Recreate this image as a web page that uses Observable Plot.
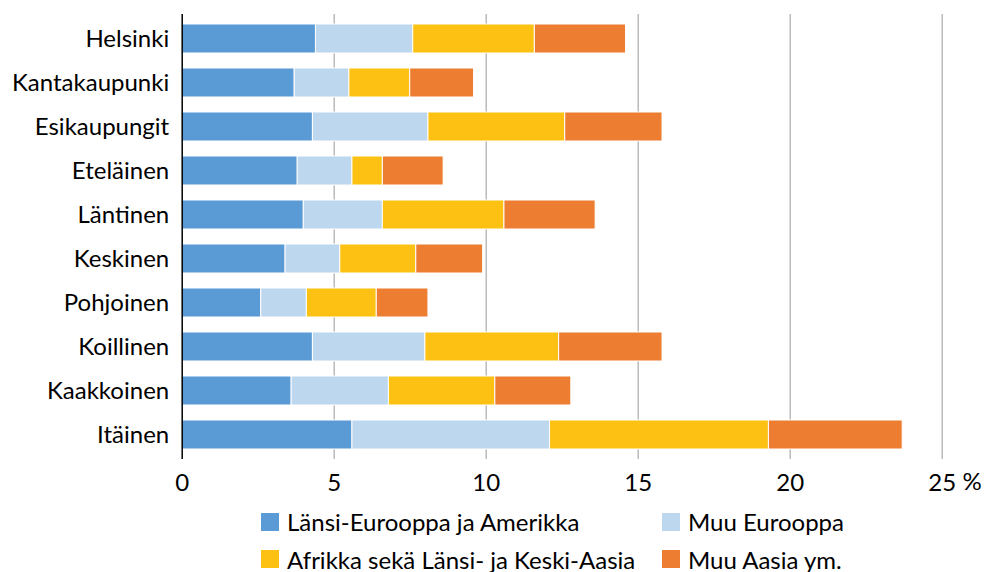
<!DOCTYPE html>
<html>
<head>
<meta charset="utf-8">
<script src="https://cdn.jsdelivr.net/npm/d3@7"></script>
<script src="https://cdn.jsdelivr.net/npm/@observablehq/plot@0.6"></script>
<style>
  body { margin: 0; background: #fff; font-family: Lato, "Open Sans", sans-serif; }
  #legend { display: grid; grid-template-columns: 401px 401px; margin-left: 261px; padding-top: 3px; }
  .item { display: flex; align-items: center; height: 37.5px; font-size: 24px; color: #000; white-space: nowrap; }
  .sw { width: 18px; height: 18px; margin-right: 8px; flex: none; }
</style>
</head>
<body>
<div id="chart"></div>
<div id="legend"></div>
<script>
const regions = ["Helsinki","Kantakaupunki","Esikaupungit","Eteläinen","Läntinen","Keskinen","Pohjoinen","Koillinen","Kaakkoinen","Itäinen"];
const seriesNames = ["Länsi-Eurooppa ja Amerikka","Muu Eurooppa","Afrikka sekä Länsi- ja Keski-Aasia","Muu Aasia ym."];
const westEuropeAmerica = [4.4, 3.7, 4.3, 3.8, 4.0, 3.4, 2.6, 4.3, 3.6, 5.6];
const otherEurope       = [3.2, 1.8, 3.8, 1.8, 2.6, 1.8, 1.5, 3.7, 3.2, 6.5];
const africaAsiaWest    = [4.0, 2.0, 4.5, 1.0, 4.0, 2.5, 2.3, 4.4, 3.5, 7.2];
const otherAsia         = [3.0, 2.1, 3.2, 2.0, 3.0, 2.2, 1.7, 3.4, 2.5, 4.4];
const xTicks = [0, 5, 10, 15, 20, 25];
const colors = ["#5B9BD5", "#BDD7EE", "#FCC113", "#ED7D31"];

const seriesValues = [westEuropeAmerica, otherEurope, africaAsiaWest, otherAsia];
const data = [];
regions.forEach((r, i) => {
  seriesNames.forEach((s, j) => data.push({region: r, series: s, value: seriesValues[j][i]}));
});

const chart = Plot.plot({
  width: 985,
  height: 500,
  marginTop: 14,
  marginBottom: 41,
  marginLeft: 181.7,
  marginRight: 43.3,
  style: {fontFamily: "Lato, 'Open Sans', sans-serif", fontSize: "24px", color: "#000", background: "#fff"},
  x: {domain: [0, 25], ticks: xTicks, tickSize: 0, label: null},
  y: {domain: regions, paddingInner: 0.35, paddingOuter: 0.175, tickSize: 0, label: null},
  color: {domain: seriesNames, range: colors},
  marks: [
    Plot.gridX(xTicks.filter(d => d > 0), {stroke: "#b0b0b0", strokeOpacity: 1, strokeWidth: 1.3}),
    Plot.barX(data, {y: "region", x: "value", fill: "series", stroke: "#fff", strokeWidth: 1}),
    Plot.ruleX([0], {stroke: "#000", strokeWidth: 1.5}),
    Plot.axisX({ticks: xTicks, tickSize: 0, tickPadding: 14, label: null, fontSize: 24}),
    Plot.axisY({tickSize: 0, tickPadding: 13, label: null, fontSize: 24}),
    Plot.text(["%"], {frameAnchor: "bottom-right", textAnchor: "middle", lineAnchor: "middle", dx: 30, dy: 22.5, fontSize: 24, fill: "#000"})
  ]
});
document.getElementById("chart").appendChild(chart);

const legend = document.getElementById("legend");
seriesNames.forEach((s, j) => {
  const it = document.createElement("div");
  it.className = "item";
  const sw = document.createElement("span");
  sw.className = "sw";
  sw.style.background = colors[j];
  const tx = document.createElement("span");
  tx.textContent = s;
  it.appendChild(sw);
  it.appendChild(tx);
  legend.appendChild(it);
});
</script>
</body>
</html>
